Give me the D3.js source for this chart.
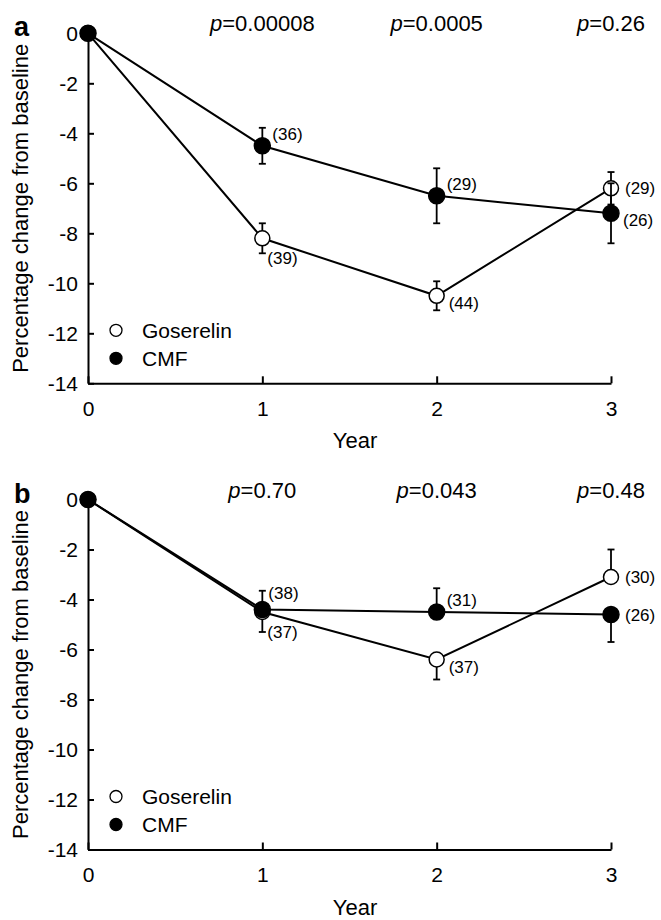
<!DOCTYPE html>
<html lang="en">
<head>
    <meta charset="UTF-8">
    <title>Percentage change from baseline</title>

    <script src="https://cdn.jsdelivr.net/npm/d3@7"></script>

    <style>
        body { margin: 0; background: #fff; }
        svg { font-family: "Liberation Sans", Arial, sans-serif; }
        .axis path, .axis line { stroke: #000; stroke-width: 2px; }
        .axis text { font-family: "Liberation Sans", Arial, sans-serif; font-size: 21px; fill: #000; }
        .series { fill: none; stroke: #000; stroke-width: 2px; }
        .err { stroke: #000; stroke-width: 1.8px; }
    </style>
</head>

<body>
<svg width="661" height="920"></svg>

<script>
    // shared axes
    const years = [0, 1, 2, 3];
    const yTicks = [0, -2, -4, -6, -8, -10, -12, -14];
    const seriesNames = ["Goserelin", "CMF"];

    // panel a
    const gosA = [0, -8.2, -10.5, -6.2];
    const gosA_errHi = [0, 0.6, 0.58, 0.65];
    const gosA_errLo = [0, 0.6, 0.58, 0.65];
    const gosA_n = [null, "(39)", "(44)", "(29)"];
    const cmfA = [0, -4.5, -6.5, -7.2];
    const cmfA_errHi = [0, 0.72, 1.1, 1.2];
    const cmfA_errLo = [0, 0.72, 1.1, 1.2];
    const cmfA_n = [null, "(36)", "(29)", "(26)"];
    const pA = ["0.00008", "0.0005", "0.26"];

    // panel b
    const gosB = [0, -4.5, -6.4, -3.1];
    const gosB_errHi = [0, 0, 0, 1.1];
    const gosB_errLo = [0, 0.8, 0.8, 0];
    const gosB_n = [null, "(37)", "(37)", "(30)"];
    const cmfB = [0, -4.4, -4.5, -4.6];
    const cmfB_errHi = [0, 0.75, 0.95, 0];
    const cmfB_errLo = [0, 0, 0, 1.1];
    const cmfB_n = [null, "(38)", "(31)", "(26)"];
    const pB = ["0.70", "0.043", "0.48"];

    // where the (n) labels sit next to their point
    const nudge = {
        above: [10, -6], aboveTight: [6, -11], below: [5, 26],
        right: [14, 6], rightLow: [12, 13]
    };

    const panels = [
        {label: "a", top: 33.3, p: pA,
         gos: {v: gosA, hi: gosA_errHi, lo: gosA_errLo, n: gosA_n, at: [null, "below", "rightLow", "right"]},
         cmf: {v: cmfA, hi: cmfA_errHi, lo: cmfA_errLo, n: cmfA_n, at: [null, "above", "above", "rightLow"]}},
        {label: "b", top: 499.5, p: pB,
         gos: {v: gosB, hi: gosB_errHi, lo: gosB_errLo, n: gosB_n, at: [null, "below", "rightLow", "right"]},
         cmf: {v: cmfB, hi: cmfB_errHi, lo: cmfB_errLo, n: cmfB_n, at: [null, "aboveTight", "above", "right"]}}
    ];

    let svg = d3.select("svg");
    svg.append("rect").attr("width", 661).attr("height", 920).attr("fill", "#fff");

    const x = d3.scaleLinear().domain([0, 3]).range([88, 611]);

    function drawPanel(pn)
    {
        let y = d3.scaleLinear().domain([-14, 0]).range([pn.top + 350, pn.top]);
        let g = svg.append("g");

        // axes, ticks pointing inwards
        g.append("g").attr("class", "axis")
            .attr("transform", "translate(" + x(0) + ",0)")
            .call(d3.axisLeft(y).tickValues(yTicks).tickSizeInner(-6).tickSizeOuter(0)
                .tickPadding(10).tickFormat(d => String(d)));

        g.append("g").attr("class", "axis")
            .attr("transform", "translate(0," + y(-14) + ")")
            .call(d3.axisBottom(x).tickValues(years).tickSizeInner(-7).tickSizeOuter(0)
                .tickPadding(18).tickFormat(d => String(d)));

        // titles
        g.append("text")
            .attr("transform", "translate(28," + (y(0) + y(-14)) / 2 + ") rotate(-90)")
            .attr("text-anchor", "middle").attr("font-size", 22)
            .text("Percentage change from baseline");

        g.append("text")
            .attr("x", 355).attr("y", y(-14) + 65)
            .attr("text-anchor", "middle").attr("font-size", 22)
            .text("Year");

        g.append("text")
            .attr("x", 14).attr("y", y(0) + 3)
            .attr("font-size", 27).attr("font-weight", "bold")
            .text(pn.label);

        // p values above each year
        let pt = g.selectAll(".pval").data(pn.p).enter().append("text")
            .attr("class", "pval")
            .attr("x", (d, i) => x(years[i + 1]))
            .attr("y", y(0) - 2)
            .attr("text-anchor", "middle").attr("font-size", 22);
        pt.append("tspan").attr("font-style", "italic").text("p");
        pt.append("tspan").text(d => "=" + d);

        // series: goserelin first, CMF on top
        [pn.gos, pn.cmf].forEach(function (s, k)
        {
            let line = d3.line().x((d, i) => x(years[i])).y(d => y(d));
            g.append("path").attr("class", "series").attr("d", line(s.v));

            s.v.forEach(function (v, i)
            {
                let top = y(v + s.hi[i]), bot = y(v - s.lo[i]), cx = x(years[i]);
                if (s.hi[i] > 0 || s.lo[i] > 0) {
                    g.append("line").attr("class", "err")
                        .attr("x1", cx).attr("x2", cx).attr("y1", top).attr("y2", bot);
                }
                if (s.hi[i] > 0) {
                    g.append("line").attr("class", "err")
                        .attr("x1", cx - 3.5).attr("x2", cx + 3.5).attr("y1", top).attr("y2", top);
                }
                if (s.lo[i] > 0) {
                    g.append("line").attr("class", "err")
                        .attr("x1", cx - 3.5).attr("x2", cx + 3.5).attr("y1", bot).attr("y2", bot);
                }
            });

            g.selectAll(".m" + k).data(s.v).enter().append("circle")
                .attr("class", "m" + k)
                .attr("cx", (d, i) => x(years[i]))
                .attr("cy", d => y(d))
                .attr("r", k === 0 ? 7.5 : 8)
                .attr("fill", k === 0 ? "#fff" : "#000")
                .attr("stroke", "#000").attr("stroke-width", 1.5);

            s.v.forEach(function (v, i)
            {
                if (!s.n[i]) return;
                let o = nudge[s.at[i]];
                g.append("text")
                    .attr("x", x(years[i]) + o[0]).attr("y", y(v) + o[1])
                    .attr("font-size", 17).text(s.n[i]);
            });
        });

        // legend
        seriesNames.forEach(function (name, k)
        {
            let ly = pn.top + 297 + k * 28;
            g.append("circle").attr("cx", 116).attr("cy", ly).attr("r", 6)
                .attr("fill", k === 0 ? "#fff" : "#000")
                .attr("stroke", "#000").attr("stroke-width", 1.3);
            g.append("text").attr("x", 142).attr("y", ly).attr("dy", "0.35em")
                .attr("font-size", 21).text(name);
        });
    }

    panels.forEach(drawPanel);
</script>
</body>
</html>
